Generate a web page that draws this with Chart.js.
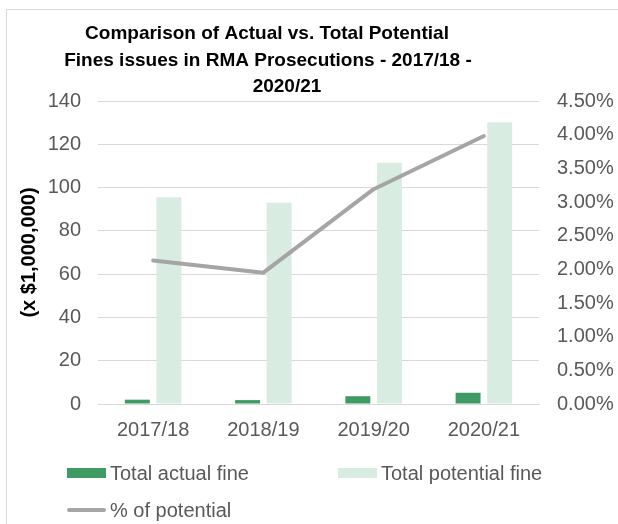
<!DOCTYPE html>
<html>
<head>
<meta charset="utf-8">
<title>RMA Prosecutions fines</title>
<script src="https://cdn.jsdelivr.net/npm/chart.js"></script>
<style>
    html, body { margin: 0; padding: 0; background: #fff; }
    #wrap { position: relative; width: 618px; height: 524px; overflow: hidden; font-family: "Liberation Sans", Arial, sans-serif; }
    #frame { position: absolute; left: 6px; top: 9px; width: 700px; height: 700px; border: 1px solid #d9d9d9; }
    #chart { position: absolute; left: 0; top: 0; }
    .legend-item { position: absolute; height: 24px; line-height: 24px; font-size: 20px; color: #595959; white-space: nowrap; }
    .legend-item .swatch { position: absolute; left: 0; width: 39px; }
    .legend-item span.text { position: absolute; left: 43px; top: 0; }
</style>
</head>
<body>
<div id="wrap">
    <div id="frame"></div>
    <canvas id="chart" width="618" height="524"></canvas>
    <div id="legend"></div>
</div>
<script>
// 數據
const categories = ['2017/18', '2018/19', '2019/20', '2020/21'];
const actualFine = [2.0, 1.8, 3.6, 5.2];          // x $1,000,000
const potentialFine = [95.5, 93.0, 111.5, 130.2]; // x $1,000,000
const pctOfPotential = [2.13, 1.95, 3.19, 3.98];  // %
const titleLines = [
    'Comparison of Actual vs. Total Potential',
    'Fines issues in RMA Prosecutions - 2017/18 -',
    '2020/21'
];

const FONT = '"Liberation Sans", Arial, sans-serif';
const TICK_COLOR = '#595959';
const GRID_COLOR = '#d9d9d9';

// 標題(手動繪製，以便控制位置)
const titlePlugin = {
    id: 'manualTitle',
    afterDraw(chart) {
        const ctx = chart.ctx;
        const xs = [267, 268, 287];
        const ys = [34, 61, 87];
        ctx.save();
        ctx.font = 'bold 19px ' + FONT;
        ctx.fillStyle = '#000';
        ctx.textAlign = 'center';
        ctx.textBaseline = 'middle';
        titleLines.forEach((line, i) => ctx.fillText(line, xs[i], ys[i]));
        ctx.restore();
    }
};

const ctx = document.getElementById('chart').getContext('2d');

const chart = new Chart(ctx, {
    type: 'bar',
    data: {
        labels: categories,
        datasets: [{
            label: 'Total actual fine',
            data: actualFine,
            backgroundColor: '#409a63',
            yAxisID: 'y',
            order: 2,
            categoryPercentage: 0.573,
            barPercentage: 0.79
        }, {
            label: 'Total potential fine',
            data: potentialFine,
            backgroundColor: '#d9ece2',
            yAxisID: 'y',
            order: 3,
            categoryPercentage: 0.573,
            barPercentage: 0.79
        }, {
            type: 'line',
            label: '% of potential',
            data: pctOfPotential,
            borderColor: '#a5a5a5',
            backgroundColor: '#a5a5a5',
            borderWidth: 4,
            borderCapStyle: 'round',
            borderJoinStyle: 'round',
            pointRadius: 0,
            tension: 0,
            yAxisID: 'y1',
            order: 1
        }]
    },
    options: {
        responsive: false,
        animation: false,
        devicePixelRatio: 1,
        layout: {
            padding: { top: 101, bottom: 72, left: 0, right: 0 }
        },
        plugins: {
            legend: { display: false },
            title: { display: false },
            tooltip: { enabled: false }
        },
        scales: {
            x: {
                grid: { display: false, drawTicks: false },
                border: { display: true, color: GRID_COLOR, width: 1 },
                ticks: { color: TICK_COLOR, font: { family: FONT, size: 20 }, padding: 14 },
                afterFit(scale) { scale.height = 48; }
            },
            y: {
                position: 'left',
                min: 0,
                max: 140,
                ticks: { stepSize: 20, color: TICK_COLOR, font: { family: FONT, size: 20 }, padding: 17 },
                grid: { color: GRID_COLOR, lineWidth: 1, drawTicks: false },
                border: { display: false },
                title: {
                    display: true,
                    text: '(x $1,000,000)',
                    color: '#000',
                    font: { family: FONT, size: 20, weight: 'bold' },
                    padding: { top: 17, bottom: 0 }
                },
                afterFit(scale) { scale.width = 98; }
            },
            y1: {
                position: 'right',
                min: 0,
                max: 4.5,
                ticks: {
                    stepSize: 0.5,
                    color: TICK_COLOR,
                    font: { family: FONT, size: 20 },
                    padding: 18,
                    callback: v => v.toFixed(2) + '%'
                },
                grid: { drawOnChartArea: false, drawTicks: false },
                border: { display: false },
                afterFit(scale) { scale.width = 79; }
            }
        }
    },
    plugins: [titlePlugin]
});

// 圖例(兩欄排列)
function buildLegend(chart) {
    const slots = [
        { left: 67, top: 461 },
        { left: 338, top: 461 },
        { left: 67, top: 498 }
    ];
    const container = document.getElementById('legend');
    container.innerHTML = '';
    chart.data.datasets.forEach((ds, i) => {
        const item = document.createElement('div');
        item.className = 'legend-item';
        item.style.left = slots[i].left + 'px';
        item.style.top = slots[i].top + 'px';
        const sw = document.createElement('div');
        sw.className = 'swatch';
        if (ds.type === 'line') {
            sw.style.height = '4px';
            sw.style.top = '10px';
            sw.style.borderRadius = '2px';
            sw.style.background = ds.borderColor;
        } else {
            sw.style.height = '10px';
            sw.style.top = '7px';
            sw.style.background = ds.backgroundColor;
        }
        const txt = document.createElement('span');
        txt.className = 'text';
        txt.textContent = ds.label;
        item.appendChild(sw);
        item.appendChild(txt);
        container.appendChild(item);
    });
}

buildLegend(chart);
</script>
</body>
</html>
